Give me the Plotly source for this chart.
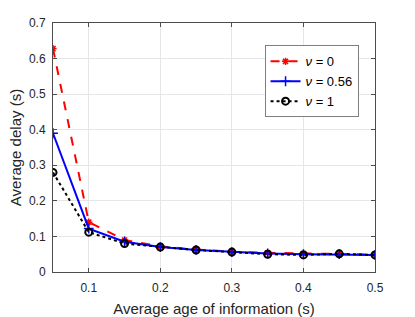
import plotly.graph_objects as go

x = [0.05, 0.1, 0.15, 0.2, 0.25, 0.3, 0.35, 0.4, 0.45, 0.5]
nu0 = [0.628, 0.140, 0.090, 0.072, 0.063, 0.057, 0.054, 0.052, 0.051, 0.049]
nu056 = [0.390, 0.122, 0.085, 0.070, 0.062, 0.056, 0.052, 0.050, 0.050, 0.048]
nu1 = [0.280, 0.112, 0.080, 0.070, 0.062, 0.056, 0.050, 0.048, 0.051, 0.048]
names = ["<i>ν</i> = 0", "<i>ν</i> = 0.56", "<i>ν</i> = 1"]
xticks = [0.1, 0.2, 0.3, 0.4, 0.5]
yticks = [0, 0.1, 0.2, 0.3, 0.4, 0.5, 0.6, 0.7]

FONT = "Liberation Sans, Arial, Helvetica"

fig = go.Figure()
fig.add_trace(go.Scatter(x=x, y=nu0, name=names[0], mode="lines+markers",
                         line=dict(color="red", width=2, dash="dash"),
                         marker=dict(symbol="asterisk-open", size=6, color="red",
                                     line=dict(color="red", width=1.5))))
fig.add_trace(go.Scatter(x=x, y=nu056, name=names[1], mode="lines+markers",
                         line=dict(color="blue", width=2),
                         marker=dict(symbol="cross-thin-open", size=7, color="blue",
                                     line=dict(color="blue", width=1.5))))
fig.add_trace(go.Scatter(x=x, y=nu1, name=names[2], mode="lines+markers",
                         line=dict(color="black", width=2, dash="dot"),
                         marker=dict(symbol="circle-open", size=7, color="black",
                                     line=dict(color="black", width=2))))

axis_common = dict(showline=True, linecolor="#4d4d4d", linewidth=1, mirror="ticks",
                   ticks="inside", ticklen=4, tickcolor="#4d4d4d",
                   showgrid=True, gridcolor="#e6e6e6", gridwidth=1, zeroline=False,
                   tickfont=dict(family=FONT, size=12, color="#262626"))

fig.update_xaxes(range=[0.05, 0.5], tickvals=xticks, ticktext=[str(v) for v in xticks],
                 ticklabelstandoff=5,
                 title=dict(text="Average age of information (s)", standoff=9,
                            font=dict(family=FONT, size=15, color="#262626")),
                 **axis_common)
fig.update_yaxes(range=[0, 0.7], tickvals=yticks, ticktext=[("0" if v == 0 else str(v)) for v in yticks],
                 ticklabelstandoff=4,
                 title=dict(text="Average delay (s)", standoff=3,
                            font=dict(family=FONT, size=15, color="#262626")),
                 **axis_common)

fig.update_layout(width=415, height=317, paper_bgcolor="white", plot_bgcolor="white",
                  margin=dict(l=53, r=40, t=23, b=45, autoexpand=False),
                  font=dict(family=FONT, size=12, color="#262626"),
                  legend=dict(x=0.657, y=0.91, xanchor="left", yanchor="top",
                              bgcolor="white", bordercolor="#7f7f7f", borderwidth=1,
                              font=dict(family=FONT, size=13, color="black"),
                              itemwidth=30, tracegroupgap=0))

fig.write_html("out.html", post_script="document.body.style.margin='0';",
               config={"displayModeBar": False})
